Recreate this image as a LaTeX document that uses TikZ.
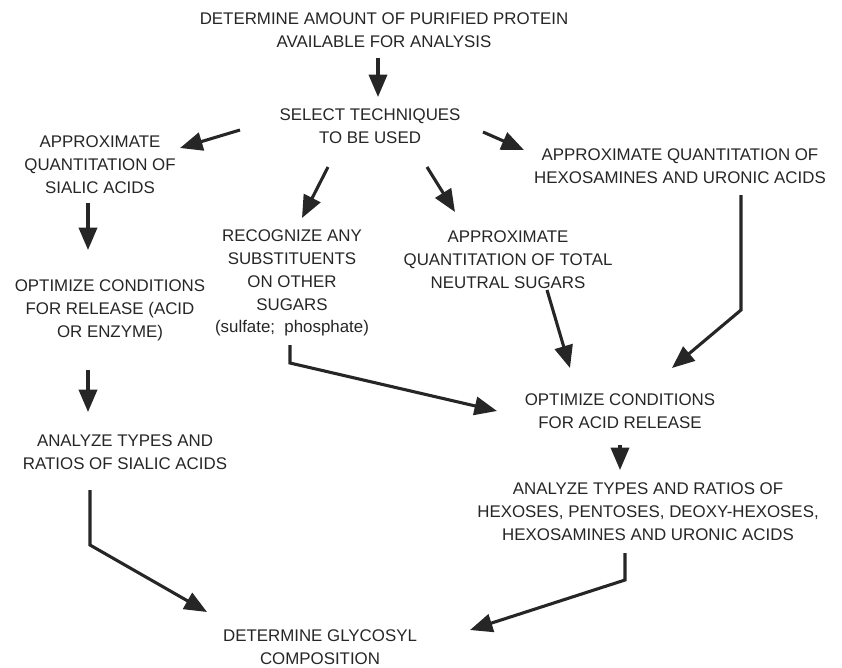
\documentclass[tikz,border=0pt]{standalone}
\usepackage{fontspec}
\setmainfont{Liberation Sans}
\usepackage{tikz}
\usetikzlibrary{arrows.meta,positioning}
\usepackage{xcolor}

\begin{document}
\begin{tikzpicture}[
        x=0.025cm, y=-0.025cm,
        txt/.style={align=center, inner sep=0pt, text=black!85, font=\fontsize{12}{16.3}\selectfont},
        arr/.style={draw=black!85, line width=2.2pt, line join=miter, -{Triangle[length=16pt, width=13pt]}},
        thick
      ]
      \useasboundingbox (0,0) rectangle (842,667);
      \node[txt] (top) at (384,30) {DETERMINE AMOUNT OF PURIFIED PROTEIN\\AVAILABLE FOR ANALYSIS};
      \node[txt] (sel) at (370,126) {SELECT TECHNIQUES\\TO BE USED};
      \node[txt] (sial) at (100,165) {APPROXIMATE\\QUANTITATION OF\\SIALIC ACIDS};
      \node[txt] (recog) at (292,283) {RECOGNIZE ANY\\SUBSTITUENTS\\ON OTHER\\SUGARS\\(sulfate;\ \ phosphate)};
      \node[txt] (neutral) at (508,260) {APPROXIMATE\\QUANTITATION OF TOTAL\\NEUTRAL SUGARS};
      \node[txt] (hexo) at (680,166) {APPROXIMATE QUANTITATION OF\\HEXOSAMINES AND URONIC ACIDS};
      \node[txt] (optrel) at (110,310) {OPTIMIZE CONDITIONS\\FOR RELEASE (ACID\\OR ENZYME)};
      \node[txt] (optacid) at (620,411) {OPTIMIZE CONDITIONS\\FOR ACID RELEASE};
      \node[txt] (anasial) at (125,452) {ANALYZE TYPES AND\\RATIOS OF SIALIC ACIDS};
      \node[txt] (anahex) at (648,512) {ANALYZE TYPES AND RATIOS OF\\HEXOSES, PENTOSES, DEOXY-HEXOSES,\\HEXOSAMINES AND URONIC ACIDS};
      \node[txt] (glyc) at (320,647) {DETERMINE GLYCOSYL\\COMPOSITION};
      \draw[arr] ([shift={(-6,28)}]top.center) -- ([shift={(8,-29)}]sel.center);
      \draw[arr] ([shift={(-130,4)}]sel.center) -- ([shift={(80,-17)}]sial.center);
      \draw[arr] ([shift={(-42,41)}]sel.center) -- ([shift={(10,-65)}]recog.center);
      \draw[arr] ([shift={(57,41)}]sel.center) -- ([shift={(-53,-48)}]neutral.center);
      \draw[arr] ([shift={(113,6)}]sel.center) -- ([shift={(-156,-16)}]hexo.center);
      \draw[arr] ([shift={(-12,38)}]sial.center) -- ([shift={(-22,-60)}]optrel.center);
      \draw[arr] ([shift={(-22,60)}]optrel.center) -- ([shift={(-37,-40)}]anasial.center);
      \draw[arr] ([shift={(-35,38)}]anasial.center) -- ++(0,55) -- ([shift={(-113,-35)}]glyc.center);
      \draw[arr] ([shift={(-2,62)}]recog.center) -- ++(0,18) -- ([shift={(-123,0)}]optacid.center);
      \draw[arr] ([shift={(39,30)}]neutral.center) -- ([shift={(-50,-43)}]optacid.center);
      \draw[arr] ([shift={(61,29)}]hexo.center) -- ++(0,115) -- ([shift={(52,-43)}]optacid.center);
      \draw[arr] ([shift={(0,34)}]optacid.center) -- ([shift={(-28,-42)}]anahex.center);
      \draw[arr] ([shift={(-23,41)}]anahex.center) -- ++(0,27) -- ([shift={(150,-17)}]glyc.center);
    \end{tikzpicture}
\end{document}
